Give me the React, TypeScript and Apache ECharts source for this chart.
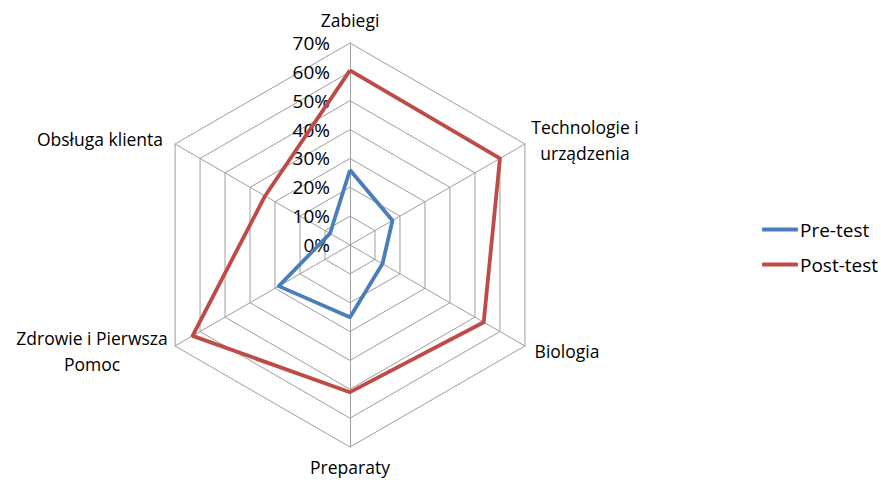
import React, { useEffect, useRef } from "react";
import * as echarts from "echarts";

const categories = [
  "Zabiegi",
  "Technologie i\nurządzenia",
  "Biologia",
  "Preparaty",
  "Zdrowie i Pierwsza\nPomoc",
  "Obsługa klienta",
];
const preTest = [26, 17, 13, 25, 28.5, 8];
const postTest = [60.5, 60, 53.5, 51, 63, 34];
const seriesNames = ["Pre-test", "Post-test"];
const colors = ["#4A7EBB", "#BE4B48"];

const FONT = "'Open Sans', Lato, sans-serif";
const FS = 17.5;
const FS_TICK = 19;

export default function App() {
  const ref = useRef<HTMLDivElement>(null);
  useEffect(() => {
    if (!ref.current) return;
    const chart = echarts.init(ref.current, undefined, { renderer: "svg" });
    const cx = 350;
    const cy = 245;
    // ECharts radar runs counter-clockwise; reorder so the picture runs clockwise
    const order = [0, 5, 4, 3, 2, 1];
    const labelPos: [number, number][] = [
      [350, 20],
      [585, 140],
      [567, 351],
      [350, 467],
      [92, 351],
      [100, 139],
    ];
    chart.setOption({
      animation: false,
      textStyle: { fontFamily: FONT },
      legend: {
        orient: "vertical",
        left: 757,
        top: 215,
        itemWidth: 36,
        itemHeight: 4,
        itemGap: 16,
        icon: "roundRect",
        textStyle: { fontSize: FS_TICK, color: "#000", fontFamily: FONT, padding: [0, 0, 0, -3] },
        data: seriesNames,
      },
      radar: {
        center: [cx, cy],
        radius: 202,
        startAngle: 90,
        splitNumber: 7,
        shape: "polygon",
        axisName: { show: false },
        axisLine: { lineStyle: { color: "#9E9E9E", width: 1 } },
        splitLine: { lineStyle: { color: "#9E9E9E", width: 1 } },
        splitArea: { show: false },
        axisLabel: { show: false },
        indicator: order.map((k, i) => ({
          name: categories[k],
          min: 0,
          max: 70,
          ...(i === 0
            ? {
                axisLabel: {
                  show: true,
                  fontSize: FS_TICK,
                  color: "#000",
                  fontFamily: FONT,
                  margin: 20,
                  formatter: (v: number) => `${v}%`,
                },
              }
            : {}),
        })),
      },
      graphic: categories.map((name, i) => ({
        type: "text",
        x: labelPos[i][0],
        y: labelPos[i][1],
        style: {
          text: name,
          fill: "#000",
          font: `${FS}px ${FONT}`,
          align: "center",
          verticalAlign: "middle",
          lineHeight: 26,
        },
      })),
      series: [
        {
          type: "radar",
          symbol: "none",
          data: [
            {
              name: seriesNames[0],
              value: order.map((k) => preTest[k]),
              lineStyle: { color: colors[0], width: 3.8 },
              itemStyle: { color: colors[0] },
            },
            {
              name: seriesNames[1],
              value: order.map((k) => postTest[k]),
              lineStyle: { color: colors[1], width: 3.8 },
              itemStyle: { color: colors[1] },
            },
          ],
        },
      ],
    });
    return () => chart.dispose();
  }, []);
  return (
    <div
      ref={ref}
      style={{ position: "fixed", left: 0, top: 0, width: 881, height: 480, background: "#fff" }}
    />
  );
}
